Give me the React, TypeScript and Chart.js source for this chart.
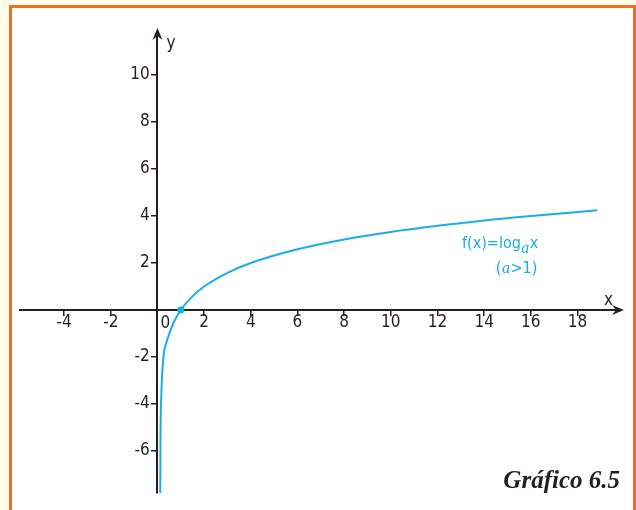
import React, { useEffect, useRef } from 'react';
import { Chart, registerables } from 'chart.js';

Chart.register(...registerables);

// Curve points
const curveX = [0.12, 0.13, 0.16, 0.26, 0.38, 0.51, 0.71, 1, 1.5, 2, 3, 4, 6, 8, 10, 12, 14, 16, 18.85];
const curveY = [-7.8, -5.5, -3.8, -2.0, -1.4, -1.0, -0.5, 0, 0.58, 1, 1.58, 2, 2.58, 3, 3.32, 3.58, 3.81, 4, 4.24];

// Highlighted point (1, 0)
const markX = [1];
const markY = [0];

// Axis ticks
const xTickValues = [-4, -2, 2, 4, 6, 8, 10, 12, 14, 16, 18];
const yTickValues = [-6, -4, -2, 2, 4, 6, 8, 10];
const originLabel = '0';
const xAxisTitle = 'x';
const yAxisTitle = 'y';

// Axis ranges
const xMin = -5.89;
const xMax = 19.82;
const yMin = -7.79;
const yMax = 11.83;

const formulaMain = 'f(x)=log';
const formulaBase = 'a';
const formulaArg = 'x';
const conditionOpen = '(';
const conditionVar = 'a';
const conditionRest = '>1)';
const caption = 'Gráfico 6.5';

const INK = '#231f20';
const CYAN = '#1aaee6';
const ORANGE = '#f06e22';
const CREAM = '#fdfbea';
const NARROW = '"DejaVu Sans Condensed", "Liberation Sans Narrow", "Liberation Sans", sans-serif';
const SERIF = '"Liberation Serif", "DejaVu Serif", serif';

const framePlugin = {
  id: 'frame',
  beforeDraw(chart: any) {
    const { ctx, width, height } = chart;
    ctx.save();
    ctx.fillStyle = CREAM;
    ctx.fillRect(0, 0, width, height);
    ctx.fillStyle = '#ffffff';
    ctx.fillRect(12, 8, width - 15, height - 8);
    ctx.fillStyle = ORANGE;
    ctx.fillRect(9, 5, width - 9, 3);
    ctx.fillRect(9, 5, 3, height - 5);
    ctx.fillRect(width - 3, 5, 3, height - 5);
    ctx.restore();
  },
};

const decorPlugin = {
  id: 'decor',
  afterDraw(chart: any) {
    const { ctx, chartArea } = chart;
    const xs = chart.scales.x;
    const ys = chart.scales.y;
    const ox = xs.getPixelForValue(0);
    const oy = ys.getPixelForValue(0);
    ctx.save();
    ctx.fillStyle = INK;
    ctx.strokeStyle = INK;
    // y arrow
    const yt = chartArea.top - 4;
    ctx.beginPath();
    ctx.moveTo(ox, yt);
    ctx.lineTo(ox + 5, yt + 12);
    ctx.lineTo(ox, yt + 8);
    ctx.lineTo(ox - 5, yt + 12);
    ctx.closePath();
    ctx.fill();
    // x arrow
    const xt = chartArea.right + 4;
    ctx.beginPath();
    ctx.moveTo(xt, oy);
    ctx.lineTo(xt - 12, oy - 5);
    ctx.lineTo(xt - 8, oy);
    ctx.lineTo(xt - 12, oy + 5);
    ctx.closePath();
    ctx.fill();

    ctx.font = `17px ${NARROW}`;
    ctx.textBaseline = 'alphabetic';
    ctx.textAlign = 'left';
    ctx.fillText(yAxisTitle, ox + 9, chartArea.top + 16);
    ctx.fillText(xAxisTitle, chartArea.right - 16, oy - 5);
    ctx.fillText(originLabel, ox + 3, oy + 18);

    // formula label
    ctx.fillStyle = CYAN;
    let fx = xs.getPixelForValue(13.05);
    const fy = ys.getPixelForValue(2.64);
    ctx.font = `16px ${NARROW}`;
    ctx.fillText(formulaMain, fx, fy);
    fx += ctx.measureText(formulaMain).width;
    ctx.font = `italic 16px ${SERIF}`;
    ctx.fillText(formulaBase, fx + 0.5, fy + 5);
    fx += ctx.measureText(formulaBase).width + 1;
    ctx.font = `16px ${NARROW}`;
    ctx.fillText(formulaArg, fx, fy);

    let cx = xs.getPixelForValue(14.5);
    const cy = ys.getPixelForValue(1.57);
    ctx.font = `16px ${NARROW}`;
    ctx.fillText(conditionOpen, cx, cy);
    cx += ctx.measureText(conditionOpen).width;
    ctx.font = `italic 16px ${SERIF}`;
    ctx.fillText(conditionVar, cx + 0.5, cy);
    cx += ctx.measureText(conditionVar).width + 1;
    ctx.font = `16px ${NARROW}`;
    ctx.fillText(conditionRest, cx, cy);

    // caption
    ctx.fillStyle = INK;
    ctx.font = `bold italic 25px ${SERIF}`;
    ctx.textAlign = 'right';
    ctx.fillText(caption, chartArea.right, 488);
    ctx.restore();
  },
};

export default function App() {
  const canvasRef = useRef<HTMLCanvasElement | null>(null);

  useEffect(() => {
    const canvas = canvasRef.current;
    if (!canvas) return;
    const curve = curveX.map((x, i) => ({ x, y: curveY[i] }));
    const marks = markX.map((x, i) => ({ x, y: markY[i] }));
    const tickFont = { family: NARROW, size: 17, lineHeight: 1 };
    const chart = new Chart(canvas, {
      type: 'line',
      data: {
        datasets: [
          {
            data: marks,
            showLine: false,
            pointRadius: 3.5,
            pointBackgroundColor: CYAN,
            pointBorderColor: CYAN,
            pointBorderWidth: 0,
          } as any,
          {
            data: curve,
            borderColor: CYAN,
            borderWidth: 2,
            pointRadius: 0,
            cubicInterpolationMode: 'monotone',
            fill: false,
          } as any,
        ],
      },
      options: {
        animation: false,
        responsive: false,
        maintainAspectRatio: false,
        events: [],
        layout: { padding: { left: 20, right: 16, top: 32, bottom: 17 } },
        plugins: { legend: { display: false }, tooltip: { enabled: false } },
        scales: {
          x: {
            type: 'linear',
            min: xMin,
            max: xMax,
            position: { y: 0 } as any,
            afterFit: (s: any) => { s.height = 0; },
            afterBuildTicks: (s: any) => { s.ticks = xTickValues.map((v) => ({ value: v })); },
            grid: { drawOnChartArea: false, drawTicks: true, tickLength: 5, color: INK, lineWidth: 1.5 },
            border: { display: true, color: INK, width: 2 },
            ticks: { font: tickFont, color: INK, padding: -1, maxRotation: 0, autoSkip: false },
          },
          y: {
            type: 'linear',
            min: yMin,
            max: yMax,
            position: { x: 0 } as any,
            afterFit: (s: any) => { s.width = 0; },
            afterBuildTicks: (s: any) => { s.ticks = yTickValues.map((v) => ({ value: v })); },
            grid: { drawOnChartArea: false, drawTicks: true, tickLength: 5, color: INK, lineWidth: 1.5 },
            border: { display: true, color: INK, width: 2 },
            ticks: {
              font: tickFont,
              color: INK,
              padding: 2,
              autoSkip: false,
              callback: (v: any) => `${v}\u2002`,
            },
          },
        },
      },
      plugins: [framePlugin, decorPlugin],
    });
    return () => chart.destroy();
  }, []);

  return (
    <div style={{ position: 'fixed', left: 0, top: 0, width: 636, height: 510 }}>
      <canvas ref={canvasRef} width={636} height={510} style={{ display: 'block' }} />
    </div>
  );
}
